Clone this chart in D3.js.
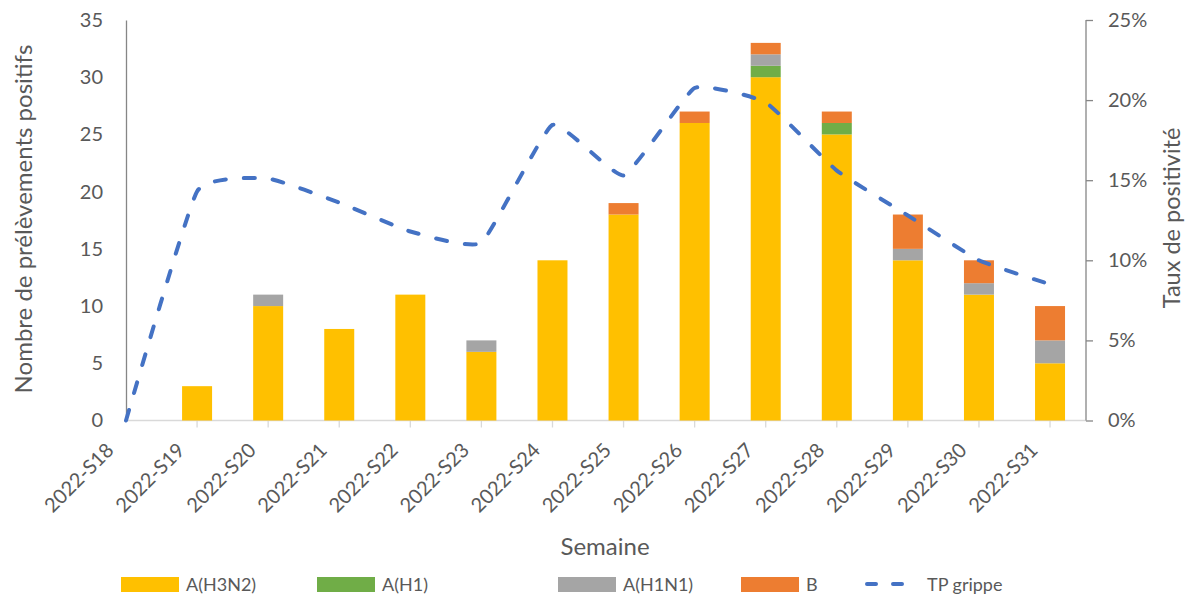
<!DOCTYPE html>
<html>
<head>
<meta charset="utf-8">
<script src="https://cdn.jsdelivr.net/npm/d3@7"></script>
<style>
  body { margin: 0; background: #fff; }
  text { font-family: Lato, "Open Sans", sans-serif; fill: #595959; }
</style>
</head>
<body>
<script>
// chart size
var w = 1192;
var h = 598;

// data
var weeks = ["2022-S18", "2022-S19", "2022-S20", "2022-S21", "2022-S22", "2022-S23", "2022-S24",
             "2022-S25", "2022-S26", "2022-S27", "2022-S28", "2022-S29", "2022-S30", "2022-S31"];
var h3n2 = [0, 3, 10, 8, 11, 6, 14, 18, 26, 30, 25, 14, 11, 5];
var h1   = [0, 0, 0, 0, 0, 0, 0, 0, 0, 1, 1, 0, 0, 0];
var h1n1 = [0, 0, 1, 0, 0, 1, 0, 0, 0, 1, 0, 1, 1, 2];
var bType = [0, 0, 0, 0, 0, 0, 0, 1, 1, 1, 1, 3, 2, 3];
var tpGrippe = [0, 14.3, 15.1, 13.6, 11.8, 11.1, 18.45, 15.3, 20.75, 19.85, 15.6, 12.8, 10.0, 8.5];

var seriesNames = ["A(H3N2)", "A(H1)", "A(H1N1)", "B"];
var seriesCols = ["#FFC000", "#70AD47", "#A5A5A5", "#ED7D31"];
var lineCol = "#4472C4";

var yTicksL = [0, 5, 10, 15, 20, 25, 30, 35];
var yTicksR = [0, 5, 10, 15, 20, 25];

// plot area
var x0 = 126, x1 = 1086;   // left axis / right axis
var yTop = 20, yBot = 420.5;
var step = 71.08;          // distance between weeks

var scaleX = d3.scalePoint()
               .domain(weeks)
               .range([x0, x0 + step*(weeks.length-1)]);
var scaleY = d3.scaleLinear().domain([0, 35]).range([yBot, yTop]);
var scaleYR = d3.scaleLinear().domain([0, 25]).range([yBot, yTop]);
var barW = 30;

var svg = d3.select("body").append("svg")
            .attr("width", w).attr("height", h);

// stack the bar series
var table = weeks.map(function(wk, i) {
  return { week: wk, "A(H3N2)": h3n2[i], "A(H1)": h1[i], "A(H1N1)": h1n1[i], "B": bType[i] };
});
var stacked = d3.stack().keys(seriesNames)(table);

// x baseline
svg.append("line")
   .attr("x1", x0).attr("x2", x1)
   .attr("y1", yBot).attr("y2", yBot)
   .attr("stroke", "#D9D9D9").attr("stroke-width", 1.3);

// x ticks
svg.selectAll(".xtick").data(weeks.slice(1)).enter()
   .append("line")
   .attr("x1", function(d){ return scaleX(d); })
   .attr("x2", function(d){ return scaleX(d); })
   .attr("y1", yBot - 7).attr("y2", yBot + 7)
   .attr("stroke", "#D9D9D9").attr("stroke-width", 1.3);

// bars
stacked.forEach(function(s, k) {
  svg.append("g").selectAll("rect").data(s).enter()
     .append("rect")
     .attr("x", function(d){ return scaleX(d.data.week) - barW/2; })
     .attr("y", function(d){ return scaleY(d[1]); })
     .attr("width", barW)
     .attr("height", function(d){ return scaleY(d[0]) - scaleY(d[1]); })
     .attr("fill", seriesCols[k]);
});

// left axis
var axisL = d3.axisLeft(scaleY).tickValues(yTicksL).tickSize(0).tickPadding(23);
var gL = svg.append("g").attr("transform", "translate(" + x0 + ",0)").call(axisL);
gL.select(".domain").attr("stroke", "#868686").attr("stroke-width", 1.3);
gL.selectAll("text").attr("font-size", 20).style("font-family", "Lato, sans-serif").attr("fill", "#595959");

// right axis
var axisR = d3.axisRight(scaleYR).tickValues(yTicksR).tickSize(7).tickPadding(15)
              .tickFormat(function(d){ return d + "%"; });
var gR = svg.append("g").attr("transform", "translate(" + x1 + ",0)").call(axisR);
gR.select(".domain").attr("stroke", "#868686").attr("stroke-width", 1.3)
  .attr("d", "M0," + yTop + "V" + yBot);
gR.selectAll("line").attr("stroke", "#868686").attr("stroke-width", 1.3);
gR.selectAll("text").attr("font-size", 20).style("font-family", "Lato, sans-serif").attr("fill", "#595959");

// line TP grippe (light smoothing, like the spreadsheet)
var line = d3.line()
             .x(function(d, i){ return scaleX(weeks[i]); })
             .y(function(d){ return scaleYR(d); })
             .curve(d3.curveCardinal.tension(0.6));
svg.append("path")
   .attr("d", line(tpGrippe))
   .attr("fill", "none")
   .attr("stroke", lineCol)
   .attr("stroke-width", 4)
   .attr("stroke-dasharray", "11 18")
   .attr("stroke-linecap", "round");

// x labels, rotated
svg.selectAll(".xlab").data(weeks).enter()
   .append("text")
   .text(function(d){ return d; })
   .attr("text-anchor", "end")
   .attr("font-size", 20)
   .attr("transform", function(d){
      return "translate(" + (scaleX(d) - 11) + "," + (yBot + 31) + ") rotate(-45)";
   });

// axis titles
svg.append("text").text("Semaine")
   .attr("x", 605).attr("y", 555)
   .attr("text-anchor", "middle").attr("font-size", 24);
svg.append("text").text("Nombre de prélèvements positifs")
   .attr("transform", "translate(32,219) rotate(-90)")
   .attr("text-anchor", "middle").attr("font-size", 24);
svg.append("text").text("Taux de positivité")
   .attr("transform", "translate(1180,218) rotate(-90)")
   .attr("text-anchor", "middle").attr("font-size", 23.5);

// legend
var legX = [121, 317, 558, 741];
seriesNames.forEach(function(nm, k) {
  svg.append("rect")
     .attr("x", legX[k]).attr("y", 577)
     .attr("width", 58).attr("height", 15)
     .attr("fill", seriesCols[k]);
  svg.append("text").text(nm)
     .attr("x", legX[k] + 65).attr("y", 591)
     .attr("font-size", 18);
});
svg.append("line")
   .attr("x1", 867).attr("x2", 919).attr("y1", 584).attr("y2", 584)
   .attr("stroke", lineCol).attr("stroke-width", 4)
   .attr("stroke-dasharray", "9 17").attr("stroke-linecap", "round");
svg.append("text").text("TP grippe")
   .attr("x", 927).attr("y", 591).attr("font-size", 18);
</script>
</body>
</html>
